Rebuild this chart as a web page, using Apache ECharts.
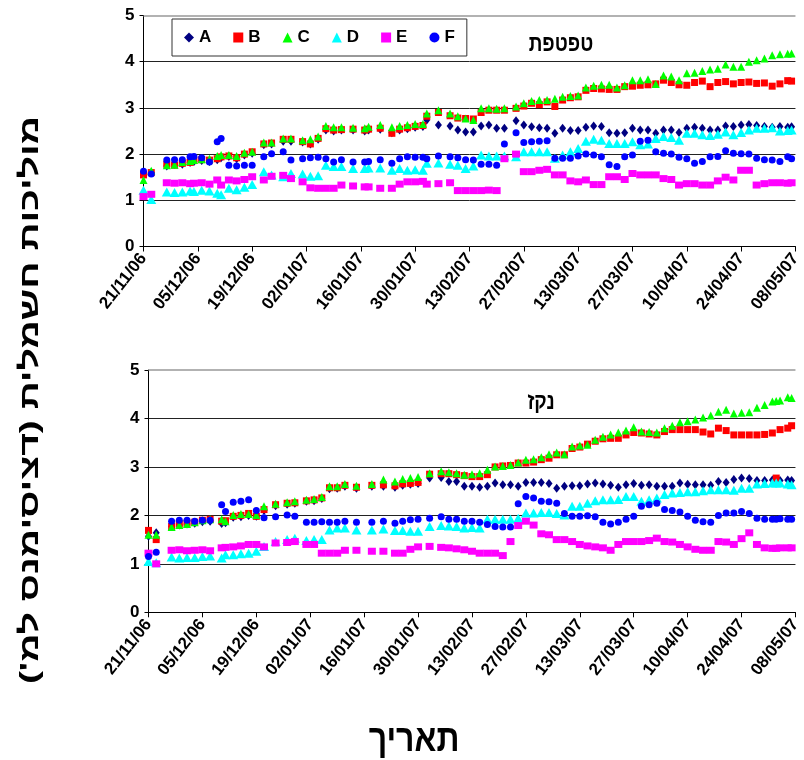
<!DOCTYPE html>
<html>
<head>
<meta charset="utf-8">
<script src="https://cdn.jsdelivr.net/npm/echarts@6/dist/echarts.min.js"></script>
<style>
html,body{margin:0;padding:0;background:#fff;}
#c{width:804px;height:760px;}
</style>
</head>
<body>
<div id="c"></div>
<script>
// ---- data ----
const seriesNames = ['A','B','C','D','E','F'];
const tickLabels = ['21/11/06','05/12/06','19/12/06','02/01/07','16/01/07','30/01/07','13/02/07','27/02/07','13/03/07','27/03/07','10/04/07','24/04/07','08/05/07'];
const yTicks = [0,1,2,3,4,5];
const panelTitleTop = 'טפטפת';
const panelTitleBottom = 'נקז';
const yTitle = "מוליכות חשמלית (דציסימנס למ')";
const xTitle = 'תאריך';

// day offsets from 21/11/06
const topDays = [0,2,6,8,10,12,13,15,17,19,20,22,24,26,28,31,33,36,38,41,43,45,47,49,51,54,57,58,61,64,66,68,70,72,73,76,79,81,83,85,87,89,91,93,96,98,100,102,104,106,108,110,112,114,116,118,120,122,124,126,128,130,132,134,136,138,140,142,144,146,148,150,152,154,156,158,160,162,164,166,167];
const topA = [1.6,1.6,1.74,1.78,1.78,1.82,1.84,1.86,1.84,1.88,
1.92,1.95,1.9,1.98,2.02,2.2,2.22,2.28,2.28,2.26,
2.22,2.32,2.52,2.5,2.52,2.52,2.5,2.52,2.54,2.46,
2.52,2.55,2.58,2.6,2.74,2.63,2.61,2.52,2.48,2.48,
2.61,2.63,2.56,2.56,2.72,2.63,2.59,2.57,2.56,2.45,
2.56,2.51,2.51,2.58,2.61,2.6,2.46,2.45,2.46,2.56,
2.52,2.52,2.45,2.52,2.52,2.47,2.56,2.58,2.56,2.52,
2.52,2.61,2.6,2.63,2.64,2.62,2.6,2.58,2.6,2.58,2.59];
const topB = [1.55,1.6,1.78,1.76,1.8,1.82,1.86,1.88,1.87,1.9,
1.94,1.96,1.92,2.0,2.05,2.22,2.24,2.32,2.32,2.27,
2.22,2.34,2.55,2.52,2.53,2.54,2.52,2.54,2.56,2.45,
2.54,2.57,2.6,2.62,2.82,2.9,2.83,2.78,2.77,2.76,
2.9,2.95,2.95,2.95,2.99,3.04,3.1,3.07,3.13,3.03,
3.17,3.22,3.24,3.38,3.42,3.41,3.4,3.4,3.46,3.47,
3.49,3.5,3.52,3.6,3.55,3.5,3.49,3.55,3.58,3.46,
3.55,3.57,3.52,3.55,3.56,3.53,3.54,3.47,3.52,3.59,3.58];
const topC = [1.44,1.64,1.76,1.77,1.83,1.85,1.87,1.89,1.9,1.96,
1.98,1.98,1.96,2.03,2.05,2.25,2.25,2.34,2.34,2.3,
2.32,2.38,2.61,2.58,2.58,2.57,2.56,2.59,2.63,2.58,
2.61,2.63,2.65,2.65,2.88,2.95,2.88,2.82,2.77,2.74,
2.99,2.99,2.98,2.99,3.03,3.1,3.15,3.17,3.17,3.2,
3.24,3.26,3.27,3.44,3.48,3.5,3.5,3.44,3.49,3.6,
3.6,3.62,3.52,3.7,3.68,3.6,3.75,3.76,3.8,3.83,
3.85,3.94,3.89,3.89,4.0,4.03,4.07,4.14,4.16,4.17,4.18];
const topD = [1.22,1.02,1.18,1.17,1.18,1.2,1.19,1.22,1.2,1.15,
1.12,1.26,1.23,1.28,1.34,1.62,1.55,1.51,1.58,1.57,
1.52,1.53,1.76,1.73,1.73,1.69,1.69,1.7,1.7,1.65,
1.69,1.65,1.66,1.65,1.8,1.81,1.78,1.76,1.69,1.74,
1.98,1.96,1.96,1.96,1.94,2.05,2.05,2.05,2.05,1.91,
1.98,2.05,2.12,2.28,2.32,2.3,2.23,2.23,2.23,2.27,
2.2,2.22,2.34,2.38,2.36,2.3,2.45,2.45,2.42,2.4,
2.43,2.48,2.42,2.47,2.52,2.56,2.56,2.57,2.5,2.51,2.52];
const topE = [1.08,1.13,1.38,1.37,1.38,1.36,1.37,1.38,1.35,1.44,
1.33,1.44,1.42,1.45,1.51,1.44,1.52,1.54,1.47,1.4,
1.27,1.26,1.26,1.26,1.33,1.31,1.29,1.29,1.26,1.26,
1.35,1.4,1.4,1.41,1.35,1.36,1.38,1.21,1.21,1.21,
1.21,1.22,1.21,1.9,2.0,1.62,1.62,1.65,1.67,1.55,
1.55,1.42,1.4,1.44,1.34,1.34,1.51,1.51,1.45,1.58,
1.55,1.55,1.55,1.47,1.45,1.33,1.36,1.36,1.33,1.33,
1.42,1.5,1.44,1.65,1.65,1.33,1.36,1.38,1.38,1.37,1.38];
const topF = [1.63,1.57,1.87,1.88,1.88,1.94,1.95,1.92,1.83,2.27,
2.34,1.76,1.74,1.76,1.76,1.94,2.01,2.05,1.87,1.9,
1.92,1.93,1.9,1.83,1.88,1.83,1.83,1.84,1.88,1.8,
1.9,1.94,1.93,1.93,1.9,1.96,1.94,1.92,1.88,1.87,
1.78,1.78,1.76,2.22,2.46,2.25,2.27,2.28,2.29,1.91,
1.91,1.91,1.96,2.0,1.98,1.94,1.77,1.73,1.94,1.98,
2.28,2.3,2.05,2.02,2.0,1.93,1.9,1.8,1.84,1.94,
1.95,2.07,2.02,2.01,2.0,1.91,1.88,1.87,1.84,1.94,1.9];

const botDays = [0,2,6,8,10,12,14,16,19,20,22,24,26,28,30,33,36,38,41,43,45,47,49,51,54,58,61,64,66,68,70,73,76,78,80,82,84,86,88,90,92,94,96,98,100,102,104,106,108,110,112,114,116,118,120,122,124,126,128,130,132,134,136,138,140,142,144,146,148,150,152,154,156,158,160,162,163,164,166,167];
const botA = [1.57,1.64,1.77,1.8,1.82,1.84,1.87,1.88,1.83,1.85,
1.96,1.97,2.0,1.98,2.1,2.2,2.23,2.25,2.29,2.3,
2.35,2.55,2.56,2.6,2.56,2.6,2.6,2.58,2.62,2.64,
2.66,2.77,2.78,2.7,2.7,2.6,2.6,2.58,2.6,2.67,
2.63,2.63,2.6,2.68,2.68,2.68,2.66,2.56,2.6,2.61,
2.61,2.65,2.67,2.65,2.62,2.58,2.63,2.66,2.62,2.63,
2.6,2.6,2.6,2.67,2.64,2.63,2.63,2.62,2.7,2.68,
2.74,2.77,2.76,2.72,2.72,2.73,2.73,2.72,2.73,2.72];
const botB = [1.69,1.5,1.77,1.82,1.84,1.86,1.9,1.92,1.88,1.89,
1.98,2.0,2.04,1.98,2.12,2.22,2.25,2.26,2.3,2.32,
2.36,2.57,2.57,2.62,2.58,2.62,2.63,2.61,2.65,2.66,
2.68,2.85,2.86,2.86,2.84,2.82,2.8,2.8,2.84,3.0,
3.02,3.03,3.08,3.08,3.1,3.15,3.18,3.25,3.25,3.38,
3.41,3.47,3.53,3.58,3.59,3.59,3.66,3.71,3.7,3.68,
3.66,3.73,3.77,3.77,3.77,3.77,3.72,3.68,3.8,3.75,
3.66,3.66,3.66,3.66,3.67,3.7,2.77,3.77,3.8,3.85];
const botC = [1.6,1.6,1.76,1.8,1.82,1.86,1.9,1.92,1.92,1.88,
2.01,2.03,2.03,2.01,2.19,2.24,2.27,2.29,2.32,2.34,
2.38,2.6,2.6,2.65,2.61,2.65,2.74,2.7,2.75,2.77,
2.79,2.87,2.91,2.89,2.87,2.84,2.85,2.87,2.94,3.01,
3.02,3.04,3.09,3.15,3.16,3.2,3.26,3.3,3.26,3.42,
3.44,3.46,3.56,3.62,3.67,3.71,3.75,3.82,3.73,3.72,
3.71,3.8,3.85,3.92,3.94,3.98,4.02,4.06,4.14,4.18,
4.1,4.12,4.13,4.22,4.28,4.35,4.36,4.37,4.44,4.42];
const botD = [1.05,1.02,1.14,1.12,1.13,1.13,1.15,1.16,1.12,1.19,
1.19,1.21,1.22,1.26,1.36,1.46,1.5,1.53,1.48,1.5,
1.5,1.7,1.74,1.74,1.7,1.7,1.72,1.69,1.69,1.67,
1.67,1.77,1.79,1.78,1.77,1.74,1.75,1.74,1.92,1.92,
1.92,1.92,1.94,2.05,2.05,2.06,2.06,2.04,2.01,2.19,
2.19,2.25,2.3,2.32,2.32,2.33,2.39,2.39,2.29,2.32,
2.36,2.43,2.46,2.47,2.49,2.49,2.51,2.53,2.53,2.53,
2.52,2.56,2.56,2.65,2.66,2.67,2.67,2.67,2.65,2.63];
const botE = [1.22,1.0,1.28,1.29,1.27,1.28,1.29,1.27,1.33,1.34,
1.35,1.37,1.4,1.4,1.35,1.43,1.44,1.46,1.4,1.4,
1.22,1.22,1.22,1.28,1.28,1.26,1.26,1.22,1.22,1.3,
1.35,1.36,1.34,1.33,1.31,1.29,1.26,1.22,1.22,1.22,
1.17,1.46,1.79,1.88,1.8,1.62,1.6,1.5,1.5,1.46,
1.4,1.37,1.35,1.33,1.28,1.4,1.46,1.46,1.46,1.48,
1.53,1.46,1.45,1.4,1.35,1.3,1.28,1.28,1.46,1.45,
1.4,1.52,1.64,1.4,1.33,1.32,1.32,1.33,1.33,1.33];
const botF = [1.15,1.24,1.88,1.9,1.9,1.88,1.9,1.9,2.22,2.08,
2.27,2.29,2.32,2.1,1.95,1.97,2.01,1.98,1.86,1.86,
1.87,1.86,1.86,1.88,1.86,1.86,1.88,1.84,1.88,1.91,
1.92,1.94,1.97,1.92,1.92,1.88,1.88,1.86,1.81,1.77,
1.76,1.76,2.24,2.39,2.36,2.29,2.28,2.25,2.04,1.98,
1.98,1.99,1.97,1.86,1.82,1.86,1.92,1.98,2.19,2.22,
2.25,2.12,2.1,2.07,1.98,1.9,1.87,1.86,2.0,2.05,
2.05,2.08,2.04,1.94,1.92,1.92,1.92,1.93,1.92,1.92];

// ---- styling ----
const FONT = '"Liberation Sans", Arial, "DejaVu Sans", sans-serif';
const styles = {
  A: {color:'#000080', symbol:'diamond', size:[7,9]},
  B: {color:'#FF0000', symbol:'rect', size:[7,7]},
  C: {color:'#00FF00', symbol:'triangle', size:[8,8]},
  D: {color:'#00FFFF', symbol:'triangle', size:[10,9]},
  E: {color:'#FF00FF', symbol:'rect', size:[8,7]},
  F: {color:'#0000FF', symbol:'circle', size:[7,7]}
};
const topVals = {A:topA,B:topB,C:topC,D:topD,E:topE,F:topF};
const botVals = {A:botA,B:botB,C:botC,D:botD,E:botE,F:botF};

function pts(days, vals){
  const out = [];
  days.forEach((d,i)=>{ if(vals[i]!=null) out.push([d, vals[i]]); });
  return out;
}

function xAxisCfg(gi){
  return {
    type:'value', gridIndex:gi, min:0, max:168, interval:14,
    axisLine:{show:true, onZero:false, lineStyle:{color:'#000', width:1}},
    axisTick:{show:true, inside:false, length:5, lineStyle:{color:'#000'}},
    splitLine:{show:false},
    axisLabel:{
      rotate:52, margin:9, color:'#000', fontFamily:FONT, fontWeight:'bold', fontSize:17,
      formatter:(v)=>tickLabels[Math.round(v/14)] || ''
    }
  };
}
function yAxisCfg(gi){
  return {
    type:'value', gridIndex:gi, min:yTicks[0], max:yTicks[yTicks.length-1], interval:1,
    axisLine:{show:true, lineStyle:{color:'#000', width:1}},
    axisTick:{show:true, inside:false, length:4, lineStyle:{color:'#000'}},
    splitLine:{show:true, showMinLine:false, showMaxLine:false, lineStyle:{color:'#222', width:1}},
    axisLabel:{margin:9, color:'#000', fontFamily:FONT, fontWeight:'bold', fontSize:17}
  };
}

const series = [];
[[0, topDays, topVals],[1, botDays, botVals]].forEach(([gi, days, vals])=>{
  seriesNames.forEach((n, k)=>{
    const s = styles[n];
    const ser = {
      name:n, type:'scatter', xAxisIndex:gi, yAxisIndex:gi,
      symbol:s.symbol, symbolSize:s.size,
      itemStyle:{color:s.color, opacity:1},
      data:pts(days, vals[n]),
      animation:false, silent:true
    };
    if(k===0){
      ser.markLine = {
        silent:true, symbol:'none', animation:false,
        label:{show:false},
        lineStyle:{color:'#999', width:1.5, type:'solid'},
        data:[{yAxis:yTicks[yTicks.length-1]}]
      };
    }
    series.push(ser);
  });
});

const chart = echarts.init(document.getElementById('c'), null, {renderer:'canvas'});
chart.setOption({
  animation:false,
  backgroundColor:'#fff',
  grid:[
    {left:143.5, right:2, top:15.5, bottom:513.5},
    {left:148.5, right:2.5, top:370, bottom:147.7}
  ],
  xAxis:[xAxisCfg(0), xAxisCfg(1)],
  yAxis:[yAxisCfg(0), yAxisCfg(1)],
  legend:{
    data:seriesNames, left:172, top:19, orient:'horizontal',
    backgroundColor:'#fff', borderColor:'#333', borderWidth:1,
    padding:[10,12,10,12], itemGap:22, itemWidth:10, itemHeight:10,
    textStyle:{color:'#000', fontFamily:FONT, fontWeight:'bold', fontSize:17, padding:[0,0,0,0]}
  },
  graphic:[
    {type:'text', x:561, y:44, scaleY:1.25, style:{text:panelTitleTop, font:'bold 19px '+FONT, fill:'#000', textAlign:'center', textVerticalAlign:'middle'}},
    {type:'text', x:541, y:402, scaleY:1.25, style:{text:panelTitleBottom, font:'bold 19px '+FONT, fill:'#000', textAlign:'center', textVerticalAlign:'middle'}},
    {type:'text', x:31, y:400, rotation:Math.PI/2, scaleX:1.5, style:{text:yTitle + '\u200F', font:'bold 26px '+FONT, fill:'#000', textAlign:'center', textVerticalAlign:'middle'}},
    {type:'text', x:414, y:740, scaleY:1.2, style:{text:xTitle, font:'bold 32px '+FONT, fill:'#000', textAlign:'center', textVerticalAlign:'middle'}}
  ],
  series:series
});
</script>
</body>
</html>
